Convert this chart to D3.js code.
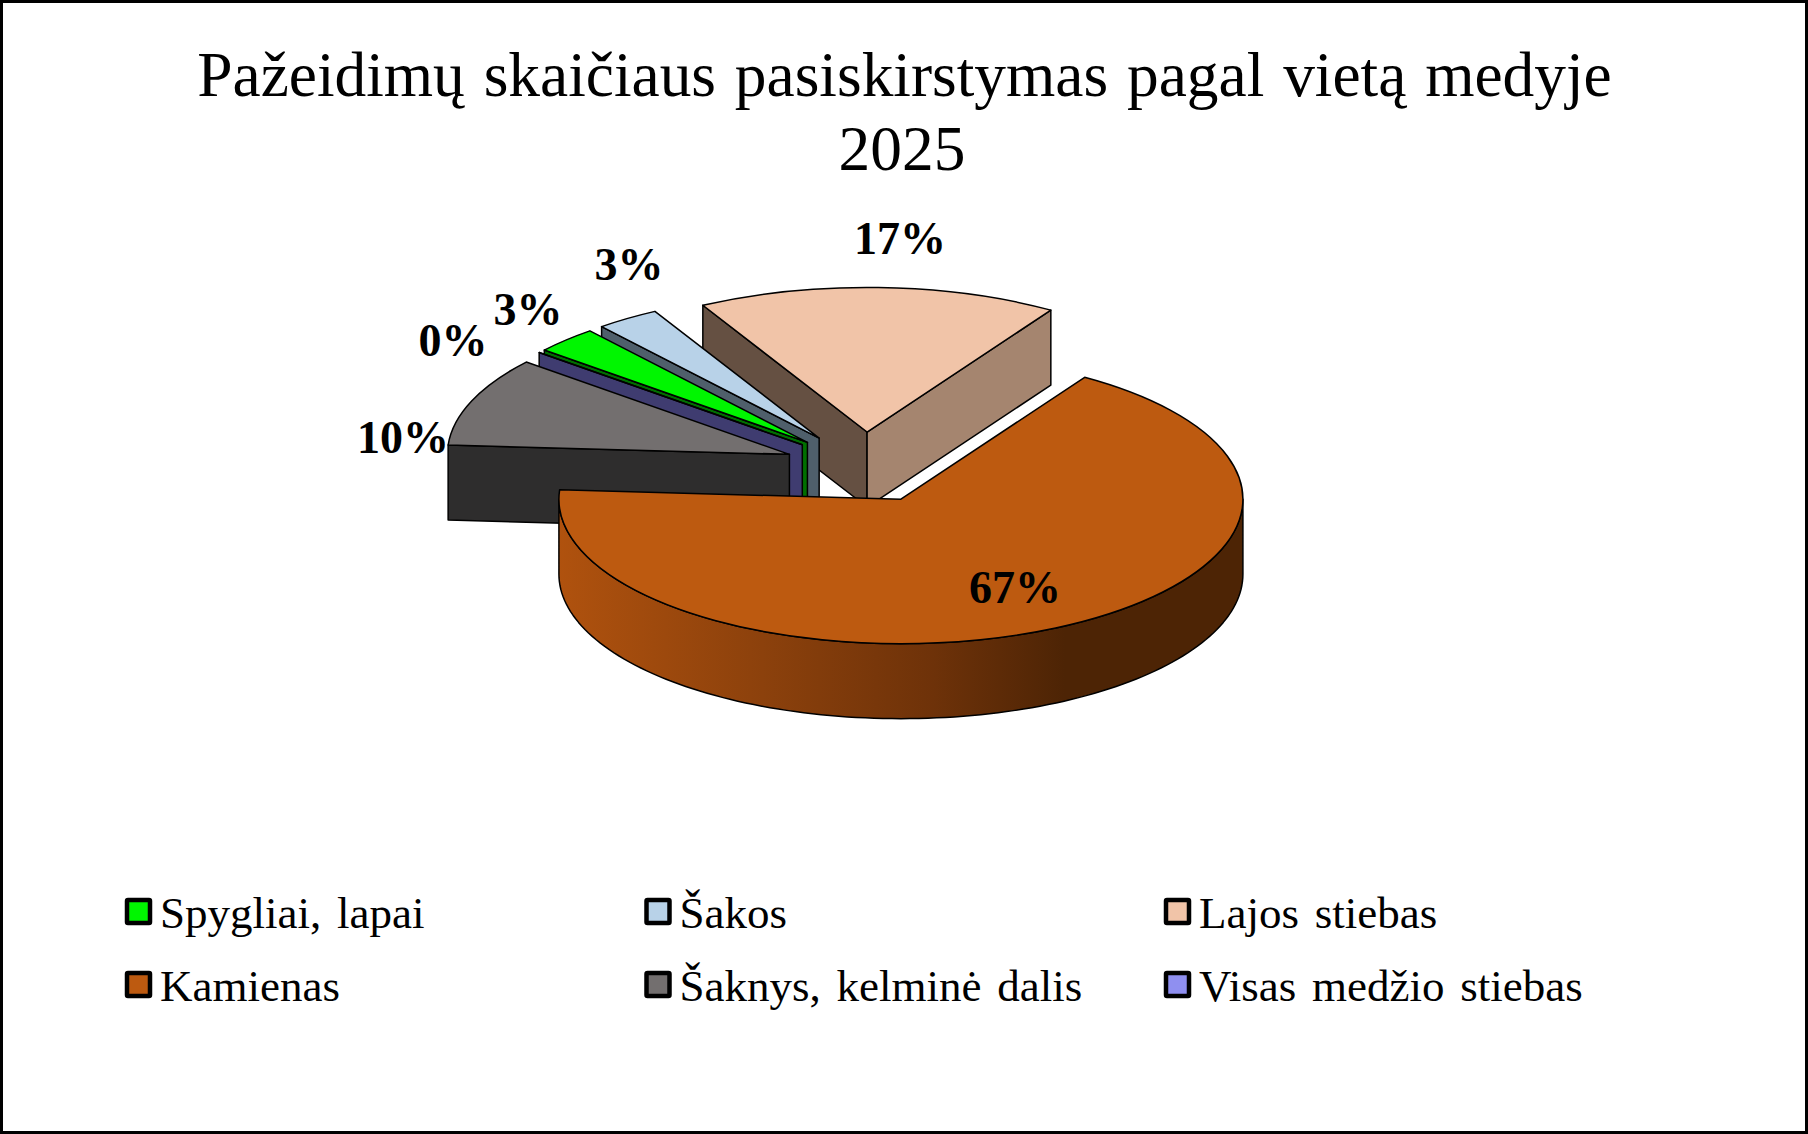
<!DOCTYPE html>
<html lang="lt">
<head>
<meta charset="utf-8">
<title>Pažeidimų skaičiaus pasiskirstymas pagal vietą medyje</title>
<script src="https://cdn.jsdelivr.net/npm/d3@7"></script>
<style>
  html, body { margin: 0; padding: 0; background: #fff; }
  svg { display: block; }
  text { font-family: "Liberation Serif", "Times New Roman", serif; fill: #000; }
</style>
</head>
<body>
<svg id="chart" width="1808" height="1134"></svg>
<script>
// Injury counts by location on the tree, percent of all records, 2025
const categories = ["Spygliai, lapai", "Šakos", "Lajos stiebas", "Kamienas", "Šaknys, kelminė dalis", "Visas medžio stiebas"];
const shares = [3, 3, 17, 67, 10, 0];
const titleLines = ["Pažeidimų skaičiaus pasiskirstymas pagal vietą medyje", "2025"];

// Slice colours: top face, wall on the slice's leading edge, wall on its trailing edge
const topColors = ["#00f600", "#b8d2e8", "#f1c4a8", "#bd5a10", "#736f6f", "#8f8ff0"];
const startWallColors = ["#006f00", "#4f5f6b", "#655042", "#bd5a10", "#2e2d2d", "#3f3c70"];
const endWallColors = ["#006f00", "#4f5f6b", "#a5856f", "#bd5a10", "#2e2d2d", "#3f3c70"];

// Pie geometry
const W = 1808, H = 1134;
const center = { x: 864.4, y: 467.5 };
const rx = 342, ry = 144.5, depth = 75;
const explodeX = 80.7, explodeY = 35.5;
const firstSliceAngle = 309.7 * Math.PI / 180;

// Percent label baselines, one per slice
const labelAnchors = [[528, 325], [629, 280], [900, 254], [1015, 603], [403, 453], [453, 356]];

const svg = d3.select("#chart");

// Outer frame
svg.append("rect")
  .attr("x", 1.5).attr("y", 1.5)
  .attr("width", W - 3).attr("height", H - 3)
  .attr("fill", "#fff").attr("stroke", "#000").attr("stroke-width", 3);

// Title
svg.append("g").selectAll("text").data(titleLines).join("text")
  .attr("x", (d, i) => i ? 902 : 904.5)
  .attr("y", (d, i) => 96 + i * 73.5)
  .attr("text-anchor", "middle")
  .attr("font-size", 63.4)
  .attr("word-spacing", 3)
  .text(d => d);

// Side wall of the main slice is shaded left to right
const defs = svg.append("defs");
const wallGradient = defs.append("linearGradient")
  .attr("id", "rimShade")
  .attr("gradientUnits", "userSpaceOnUse")
  .attr("x1", 556).attr("x2", 1243).attr("y1", 0).attr("y2", 0);
[[0, "#b0520e"], [0.3, "#8c410c"], [0.55, "#6e3209"], [0.74, "#4d2405"], [1, "#4d2405"]]
  .forEach(([o, c]) => wallGradient.append("stop").attr("offset", o).attr("stop-color", c));

const pie = d3.pie().sort(null)
  .startAngle(firstSliceAngle)
  .endAngle(firstSliceAngle + 2 * Math.PI);

const arcs = pie(shares).map((a, i) => {
  const mid = (a.startAngle + a.endAngle) / 2;
  return {
    ...a, i,
    cx: center.x + explodeX * Math.sin(mid),
    cy: center.y - explodeY * Math.cos(mid)
  };
});

const rimPoint = (s, angle) => [s.cx + rx * Math.sin(angle), s.cy - ry * Math.cos(angle)];
const topArc = d3.arc().innerRadius(0).outerRadius(rx);
const line = d3.line();
const rimArea = d3.area().x(d => d[0]).y0(d => d[1]).y1(d => d[1] + depth);

function radialWall(s, angle) {
  const [ex, ey] = rimPoint(s, angle);
  return line([[s.cx, s.cy], [ex, ey], [ex, ey + depth], [s.cx, s.cy + depth]]) + "Z";
}

const slices = svg.append("g").attr("stroke", "#000").attr("stroke-width", 1.5).attr("stroke-linejoin", "round");

// Painted back to front
arcs.slice().sort((a, b) => a.cy - b.cy).forEach(s => {
  const g = slices.append("g");
  if (Math.sin(s.startAngle) < 0) {
    g.append("path").attr("d", radialWall(s, s.startAngle)).attr("fill", startWallColors[s.i]);
  }
  if (Math.sin(s.endAngle) > 0) {
    g.append("path").attr("d", radialWall(s, s.endAngle)).attr("fill", endWallColors[s.i]);
  }
  // Curved rim, only on the half of the circle that faces the viewer
  [0, 2 * Math.PI].forEach(turn => {
    const from = Math.max(s.startAngle, Math.PI / 2 + turn);
    const to = Math.min(s.endAngle, 3 * Math.PI / 2 + turn);
    if (to > from) {
      const rim = d3.range(0, 121).map(k => rimPoint(s, from + (to - from) * k / 120));
      g.append("path").attr("d", rimArea(rim)).attr("fill", "url(#rimShade)");
    }
  });
  g.append("path")
    .attr("d", topArc(s))
    .attr("transform", `translate(${s.cx},${s.cy}) scale(1,${ry / rx})`)
    .attr("vector-effect", "non-scaling-stroke")
    .attr("fill", topColors[s.i]);
});

// Percent labels
const pct = d3.format(".0%");
const total = d3.sum(shares);
svg.append("g").selectAll("text").data(shares).join("text")
  .attr("x", (d, i) => labelAnchors[i][0])
  .attr("y", (d, i) => labelAnchors[i][1])
  .attr("text-anchor", "middle")
  .attr("font-size", 46)
  .attr("font-weight", "bold")
  .text(d => pct(d / total));

// Legend, three columns by two rows
const legendX = d3.scalePoint().domain([0, 1, 2]).range([125, 1164]);
const legendY = d3.scalePoint().domain([0, 1]).range([898, 971]);
const legend = svg.append("g").selectAll("g").data(categories).join("g")
  .attr("transform", (d, i) => `translate(${legendX(i % 3)},${legendY(Math.floor(i / 3))})`);
legend.append("rect")
  .attr("x", 2).attr("y", 2).attr("width", 23).attr("height", 23).attr("rx", 1)
  .attr("fill", (d, i) => topColors[i])
  .attr("stroke", "#000").attr("stroke-width", 4.5);
legend.append("text")
  .attr("x", 35).attr("y", 30)
  .attr("font-size", 45)
  .attr("word-spacing", 4.5)
  .text(d => d);
</script>
</body>
</html>
